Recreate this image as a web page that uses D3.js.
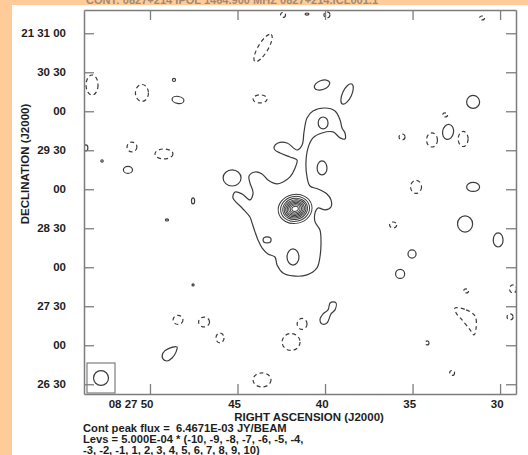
<!DOCTYPE html>
<html><head><meta charset="utf-8">
<script src="https://cdn.jsdelivr.net/npm/d3@7"></script>
<style>body{margin:0;background:#fff}svg{display:block}</style>
</head><body>
<script>
// ---------------- DATA ----------------
// RA in seconds of time (08h27m..), Dec in arcsec from 21d00'00"
const raExtent = [53.77, 29.09];
const decExtent = [1582.5, 1877.9];
const raTicks = [50, 45, 40, 35, 30];
const raLabels = ["08 27 50", "45", "40", "35", "30"];
const decTicks = [1860, 1830, 1800, 1770, 1740, 1710, 1680, 1650, 1620, 1590];
const decLabels = ["21 31 00", "30 30", "00", "29 30", "00", "28 30", "00", "27 30", "00", "26 30"];
const peakFlux = "6.4671E-03";
const levelUnit = "5.000E-04";
const levelMultipliers = [-10, -9, -8, -7, -6, -5, -4, -3, -2, -1, 1, 2, 3, 4, 5, 6, 7, 8, 9, 10];
const beam = { major: 11.5, minor: 11.5, pa: 0 }; // arcsec

// isolated (roughly elliptical) contours: ra, dec, semi-axis a, semi-axis b (arcsec), tilt (deg), level
const islands = [
  [43.54, 1848.7, 12.1, 3.8, -59, -1],
  [53.31, 1820.2, 4.6, 7.7, 0, -1],
  [50.46, 1814.1, 5.0, 6.5, 0, -1],
  [48.63, 1824.1, 1.2, 1.2, 0, 1],
  [48.40, 1808.7, 4.6, 2.7, 10, 1],
  [43.71, 1809.5, 5.4, 3.1, 0, -1],
  [40.17, 1820.2, 6.2, 3.5, -20, 1],
  [38.74, 1813.3, 8.5, 3.5, -65, 1],
  [31.54, 1807.2, 5.0, 5.0, 0, 1],
  [33.14, 1797.2, 1.9, 1.5, 0, -1],
  [35.60, 1780.2, 2.3, 2.3, 0, -1],
  [33.89, 1777.9, 4.2, 5.4, 0, -1],
  [32.97, 1784.1, 4.2, 5.8, 10, 1],
  [32.11, 1778.7, 3.8, 5.8, 0, -1],
  [34.80, 1741.8, 4.2, 5.0, 0, -1],
  [31.54, 1741.8, 5.0, 3.5, 0, 1],
  [36.11, 1712.5, 2.7, 2.3, 0, -1],
  [32.00, 1713.3, 5.8, 6.2, 0, 1],
  [30.11, 1701.0, 3.8, 5.4, 0, 1],
  [35.03, 1690.2, 3.1, 3.1, 0, 1],
  [35.71, 1674.9, 3.5, 3.5, 0, 1],
  [31.94, 1661.8, 1.9, 1.5, 0, -1],
  [29.26, 1663.3, 2.7, 3.1, 0, -1],
  [51.03, 1772.5, 3.8, 3.8, 0, -1],
  [49.20, 1767.2, 6.9, 3.8, 0, -1],
  [52.74, 1761.8, 0.9, 0.9, 0, 1],
  [51.26, 1754.9, 3.5, 2.7, 0, 1],
  [47.54, 1731.0, 1.2, 2.3, 0, 1],
  [49.03, 1716.4, 1.2, 0.8, 0, 1],
  [47.54, 1666.4, 0.8, 0.8, 0, 1],
  [48.40, 1639.5, 3.8, 3.5, 0, -1],
  [46.91, 1637.9, 4.2, 3.8, 0, -1],
  [46.00, 1625.6, 3.1, 3.8, 0, -1],
  [41.31, 1636.4, 3.8, 4.2, 0, -1],
  [41.94, 1622.5, 6.9, 6.5, 0, -1],
  [29.43, 1641.8, 2.3, 2.3, 0, -1],
  [34.17, 1621.8, 1.5, 1.5, 0, -1],
  [43.60, 1593.3, 6.9, 5.4, 0, -1],
  [32.74, 1598.7, 1.9, 1.9, 0, -1],
  [42.40, 1874.1, 1.9, 1.9, 0, -1],
  [41.03, 1874.8, 1.5, 0.8, 0, 1],
  [39.89, 1874.1, 2.3, 2.3, 0, -1],
  [31.03, 1871.8, 1.9, 1.5, 0, -1],
  [53.66, 1771.8, 1.5, 2.3, 0, 1],
  [40.11, 1791.0, 3.8, 4.6, 0, 1],
  [40.17, 1756.4, 3.8, 5.4, 0, 1],
  [43.31, 1701.0, 3.1, 2.3, 0, 1],
  [41.83, 1687.9, 4.6, 6.2, 0, 1],
  [45.31, 1748.7, 6.9, 6.2, 0, 1]
];

// irregular contours: list of [ra, dec] vertices
const mainContour = [[42.91,1772.5],[42.69,1775.6],[42.17,1775.6],[41.60,1770.2],[41.31,1774.1],[41.20,1784.1],[41.03,1794.9],[40.69,1800.2],[40.00,1802.5],[39.43,1800.2],[39.14,1793.3],[39.03,1787.2],[38.86,1783.3],[38.86,1778.7],[39.14,1779.5],[39.54,1784.1],[40.17,1783.3],[40.69,1779.5],[40.97,1771.8],[41.09,1760.2],[41.03,1749.5],[40.86,1742.5],[40.40,1740.2],[39.89,1736.4],[39.66,1731.8],[39.66,1726.4],[40.00,1724.1],[40.40,1725.6],[40.57,1721.8],[40.57,1714.9],[40.29,1708.7],[40.23,1698.7],[40.29,1687.9],[40.46,1679.5],[41.03,1674.1],[41.83,1673.3],[42.40,1675.6],[42.74,1681.8],[42.86,1687.9],[43.26,1690.2],[43.60,1694.9],[43.83,1701.0],[44.00,1707.2],[44.17,1714.1],[44.29,1718.7],[44.74,1725.6],[45.26,1733.3],[45.14,1737.9],[44.74,1736.4],[44.29,1731.8],[44.11,1737.2],[44.29,1744.9],[44.34,1750.2],[44.00,1753.3],[43.60,1751.8],[43.26,1747.2],[42.74,1744.1],[42.40,1745.6],[42.00,1749.5],[41.71,1756.4],[41.60,1762.5],[42.00,1764.8],[42.57,1767.9],[42.86,1770.2]];
const figureEight = [[39.54,1653.3],[39.37,1652.5],[39.43,1647.2],[39.66,1644.1],[39.89,1637.1],[40.17,1636.4],[40.29,1639.5],[40.11,1644.1],[39.83,1647.2],[39.71,1652.5]];
const negTriangle = [[32.57,1648.7],[31.94,1647.2],[31.43,1642.5],[31.37,1633.3],[31.49,1627.9],[31.71,1631.8],[32.17,1639.5],[32.51,1644.8]];
const teardrop = [[48.46,1618.7],[48.51,1614.9],[48.74,1610.2],[49.03,1607.9],[49.26,1609.5],[49.26,1614.1],[48.97,1617.2]];
const irregular = [
  { pts: mainContour, level: 1 },
  { pts: figureEight, level: 1 },
  { pts: negTriangle, level: -1 },
  { pts: teardrop, level: 1 }
];

// concentric contours around the peak
const peakPos = [41.71, 1724.9];
const ringLevels = [2, 3, 4, 5, 6, 7, 8, 9, 10];
const ringMajor = [13.1, 11.2, 9.6, 8.5, 7.3, 6.2, 5.0, 3.8, 2.5];
const ringMinor = [11.2, 9.6, 8.1, 6.9, 6.0, 5.0, 4.1, 3.1, 1.9];
const ringTilt = -12;

// ---------------- DRAW ----------------
const W = 528, H = 455;
const FONT = "'Liberation Sans', Arial, Helvetica, sans-serif";
const INK = "#1e1e1e", FRAME = "#7d7d7d", LINE = "#3c3c3c";
const svg = d3.select("body").append("svg").attr("width", W).attr("height", H);
svg.append("rect").attr("width", W).attr("height", H).attr("fill", "#FFCC99");
svg.append("rect").attr("x", 12).attr("y", 5).attr("width", W - 12).attr("height", H - 5).attr("fill", "#fff");

svg.append("text").attr("x", 86).attr("y", 4).attr("font-family", FONT).attr("font-weight", "bold")
  .attr("font-size", 11).attr("fill", "#a08a74").attr("textLength", 292)
  .text("CONT: 0827+214 IPOL 1464.900 MHZ 0827+214.ICL001.1");

const frame = { left: 84, right: 516, top: 10, bottom: 394 };
const x = d3.scaleLinear().domain(raExtent).range([frame.left, frame.right]);
const y = d3.scaleLinear().domain(decExtent).range([frame.bottom, frame.top]);
const pxPerArcsec = Math.abs(y(1) - y(0));

svg.append("defs").append("clipPath").attr("id", "clip").append("rect")
  .attr("x", frame.left).attr("y", frame.top)
  .attr("width", frame.right - frame.left).attr("height", frame.bottom - frame.top);

const plot = svg.append("g").attr("clip-path", "url(#clip)")
  .attr("fill", "none").attr("stroke", LINE).attr("stroke-width", 1.2);
const dashFor = lv => lv < 0 ? "4,3" : null;

plot.selectAll("ellipse.island").data(islands).join("ellipse").attr("class", "island")
  .attr("cx", d => x(d[0])).attr("cy", d => y(d[1]))
  .attr("rx", d => d[2] * pxPerArcsec).attr("ry", d => d[3] * pxPerArcsec)
  .attr("transform", d => `rotate(${d[4]},${x(d[0])},${y(d[1])})`)
  .attr("stroke-dasharray", d => dashFor(d[5]));

const line = d3.line().x(d => x(d[0])).y(d => y(d[1])).curve(d3.curveCatmullRomClosed.alpha(0.5));
plot.selectAll("path.irr").data(irregular).join("path").attr("class", "irr")
  .attr("d", d => line(d.pts)).attr("stroke-dasharray", d => dashFor(d.level));

plot.selectAll("ellipse.ring").data(ringLevels).join("ellipse").attr("class", "ring")
  .attr("cx", x(peakPos[0])).attr("cy", y(peakPos[1]))
  .attr("rx", (d, i) => ringMajor[i] * pxPerArcsec).attr("ry", (d, i) => ringMinor[i] * pxPerArcsec)
  .attr("stroke-width", 1)
  .attr("transform", `rotate(${ringTilt},${x(peakPos[0])},${y(peakPos[1])})`);

// axes (inward ticks on all sides)
function styleAxis(g) {
  g.select(".domain").attr("stroke", FRAME).attr("stroke-width", 1.5);
  g.selectAll(".tick line").attr("stroke", FRAME).attr("stroke-width", 1.3);
  g.selectAll("text").attr("font-family", FONT).attr("font-weight", "bold")
    .attr("font-size", 11.5).attr("fill", INK);
}
svg.append("g").attr("transform", `translate(0,${frame.bottom})`)
  .call(d3.axisBottom(x).tickValues(raTicks).tickFormat((d, i) => raLabels[i])
    .tickSizeInner(-10).tickSizeOuter(0).tickPadding(6))
  .call(styleAxis)
  .call(g => g.selectAll("text").attr("text-anchor", "end").attr("dx", 3));
svg.append("g").attr("transform", `translate(0,${frame.top})`)
  .call(d3.axisTop(x).tickValues(raTicks).tickFormat("").tickSizeInner(-10).tickSizeOuter(0))
  .call(styleAxis);
svg.append("g").attr("transform", `translate(${frame.left},0)`)
  .call(d3.axisLeft(y).tickValues(decTicks).tickFormat((d, i) => decLabels[i])
    .tickSizeInner(-10).tickSizeOuter(0).tickPadding(18))
  .call(styleAxis);
svg.append("g").attr("transform", `translate(${frame.right},0)`)
  .call(d3.axisRight(y).tickValues(decTicks).tickFormat("").tickSizeInner(-10).tickSizeOuter(0))
  .call(styleAxis);

// beam
const bx = frame.left + 3, by = frame.bottom - 31;
svg.append("rect").attr("x", bx).attr("y", by).attr("width", 28).attr("height", 30)
  .attr("fill", "none").attr("stroke", FRAME).attr("stroke-width", 1.2);
svg.append("ellipse").attr("cx", bx + 14).attr("cy", by + 15)
  .attr("rx", beam.minor / 2 * pxPerArcsec).attr("ry", beam.major / 2 * pxPerArcsec)
  .attr("fill", "none").attr("stroke", LINE).attr("stroke-width", 1.2);

// titles
const txt = (xx, yy, s, fs) => svg.append("text").attr("x", xx).attr("y", yy)
  .attr("font-family", FONT).attr("font-weight", "bold").attr("font-size", fs || 11.2)
  .attr("fill", INK).style("white-space", "pre").text(s);
txt(309, 420.5, "RIGHT ASCENSION (J2000)", 11.5).attr("text-anchor", "middle");
svg.append("text").attr("transform", "translate(29,164) rotate(-90)").attr("text-anchor", "middle")
  .attr("font-family", FONT).attr("font-weight", "bold").attr("font-size", 11.5).attr("fill", INK)
  .text("DECLINATION (J2000)");
txt(83, 431.5, `Cont peak flux =  ${peakFlux} JY/BEAM`);
const l1 = levelMultipliers.slice(0, 7).join(", ");
const l2 = levelMultipliers.slice(7).join(", ");
txt(83, 442.5, `Levs = ${levelUnit} * (${l1},`);
txt(83, 453.5, `${l2})`);
</script>
</body></html>
